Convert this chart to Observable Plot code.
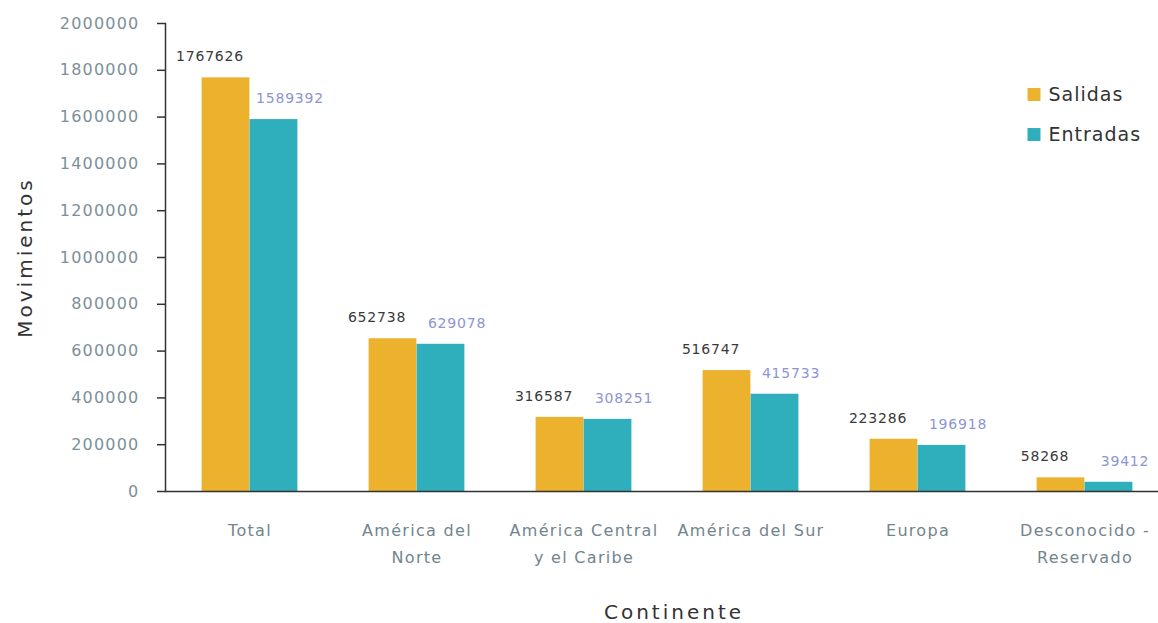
<!DOCTYPE html>
<html>
<head>
<meta charset="utf-8">
<script src="https://cdn.jsdelivr.net/npm/d3@7"></script>
<script src="https://cdn.jsdelivr.net/npm/@observablehq/plot@0.6"></script>
<style>
  body { margin: 0; background: #fff; }
  #chart svg { font-family: "DejaVu Sans", sans-serif; }
  g[aria-label="y-axis tick label"] text { letter-spacing: 1.2px; }
  g[aria-label="x-axis tick label"] text { letter-spacing: 1.3px; }
  g.vlabel text { letter-spacing: 0.8px; }
  g.title text { letter-spacing: 3px; }
  g.legend text { letter-spacing: 1px; }
</style>
</head>
<body>
<div id="chart"></div>
<script>
const categories = ["Total", "América del\nNorte", "América Central\ny el Caribe", "América del Sur", "Europa", "Desconocido -\nReservado"];
const series = ["Salidas", "Entradas"];
const salidas = [1767626, 652738, 316587, 516747, 223286, 58268];
const entradas = [1589392, 629078, 308251, 415733, 196918, 39412];
const yTicks = [0, 200000, 400000, 600000, 800000, 1000000, 1200000, 1400000, 1600000, 1800000, 2000000];
const colors = ["#ECB12D", "#2FAEBB"];
const labelColors = ["#3a3a3a", "#8b95d3"];

const values = [salidas, entradas];
const rows = series.map((s, si) => categories.map((c, i) => ({cat: c, series: s, value: values[si][i]})));

const insets = [[35.6, 83.6], [83.6, 35.6]];
const labelDx = [-40, 40];

const marks = [];
series.forEach((s, si) => {
  marks.push(Plot.barY(rows[si], {x: "cat", y: "value", fill: colors[si], insetLeft: insets[si][0], insetRight: insets[si][1]}));
  marks.push(Plot.text(rows[si], {x: "cat", y: "value", text: d => String(d.value), dx: labelDx[si], dy: -21, fill: labelColors[si], fontSize: 14, className: "vlabel"}));
  marks.push(Plot.dot([s], {frameAnchor: "top-right", dx: -124.5, dy: 71 + 40 * si, symbol: "square", r: 7.3, fill: colors[si], stroke: null}));
  marks.push(Plot.text([s], {frameAnchor: "top-right", dx: -110, dy: 71 + 40 * si, text: d => d, textAnchor: "start", lineAnchor: "middle", fill: "#333", fontSize: 19, className: "legend"}));
});

const plot = Plot.plot({
  width: 1158,
  height: 623,
  marginTop: 23,
  marginBottom: 132,
  marginLeft: 165,
  marginRight: 0,
  style: {fontFamily: "DejaVu Sans", background: "#fff"},
  x: {domain: categories, range: [165, 1168], padding: 0, axis: null},
  y: {domain: [0, 2000000], axis: null},
  marks: [
    ...marks,
    Plot.axisY({ticks: yTicks, tickSize: 8, tickPadding: 18, tickFormat: d3.format("d"), fontSize: 16, fill: "#7b9098", stroke: "#333", strokeWidth: 1.5, label: null}),
    Plot.axisX({anchor: "bottom", tickSize: 0, tickPadding: 25, fontSize: 16, fill: "#71858e", lineHeight: 1.7, label: null}),
    Plot.ruleY([0], {stroke: "#333", strokeWidth: 1.5}),
    Plot.frame({anchor: "left", stroke: "#333", strokeWidth: 1.5}),
    Plot.text(["Continente"], {frameAnchor: "bottom", dx: 12, dy: 127, text: d => d, fontSize: 20, fill: "#333", className: "title"}),
    Plot.text(["Movimientos"], {frameAnchor: "left", dx: -140, rotate: -90, textAnchor: "middle", lineAnchor: "middle", text: d => d, fontSize: 20, fill: "#333", className: "title"})
  ]
});
document.getElementById("chart").appendChild(plot);
</script>
</body>
</html>
